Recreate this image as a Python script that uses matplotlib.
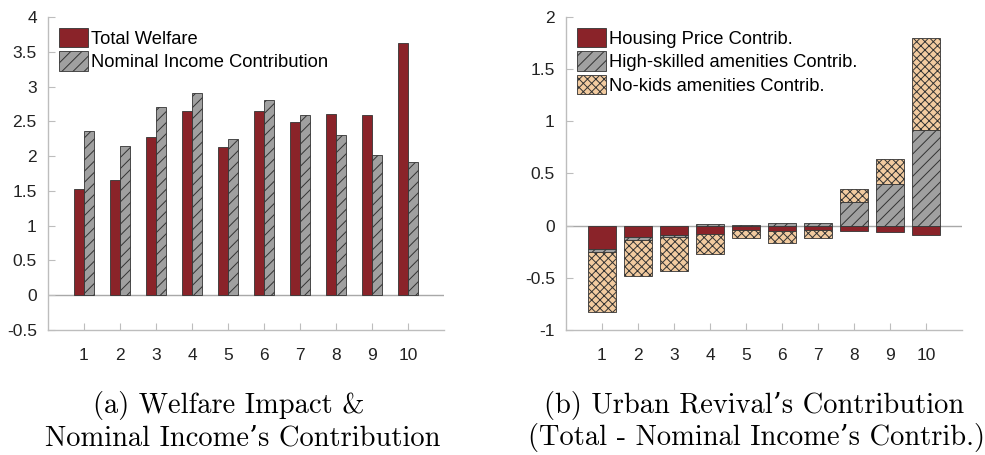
import numpy as np
import matplotlib.pyplot as plt

plt.rcParams['font.family'] = ['Liberation Sans', 'DejaVu Sans']
plt.rcParams['hatch.linewidth'] = 0.7

groups = np.arange(1, 11)

# panel (a)
total_welfare = [1.53, 1.66, 2.28, 2.65, 2.13, 2.65, 2.49, 2.61, 2.59, 3.63]
nominal_income = [2.36, 2.14, 2.70, 2.90, 2.24, 2.80, 2.59, 2.31, 2.01, 1.92]

# panel (b)
housing_price = [-0.22, -0.11, -0.09, -0.08, -0.04, -0.05, -0.04, -0.05, -0.06, -0.09]
high_skilled = [-0.035, -0.03, -0.02, 0.013, 0.003, 0.03, 0.03, 0.23, 0.40, 0.92]
no_kids = [-0.575, -0.34, -0.32, -0.19, -0.08, -0.12, -0.08, 0.125, 0.235, 0.875]

red = '#8a2329'
grey = '#a0a0a0'
tan = '#f2cba0'
edge = '#333333'
axcol = '#bdbdbd'


def style_axes(ax, ylim, yticks, ylabels):
    ax.set_xlim(0, 11)
    ax.set_ylim(*ylim)
    ax.set_xticks(groups)
    ax.set_yticks(yticks)
    ax.set_yticklabels(ylabels)
    for s in ['top', 'right']:
        ax.spines[s].set_visible(False)
    for s in ['left', 'bottom']:
        ax.spines[s].set_color(axcol)
        ax.spines[s].set_linewidth(1.0)
    ax.tick_params(direction='in', length=5, color=axcol, labelsize=12.5,
                   labelcolor='#222222')
    ax.tick_params(axis='x', pad=13)
    ax.tick_params(axis='y', pad=8)
    ax.axhline(0, color='#a8a8a8', lw=1.0, zorder=1)


def add_legend(ax, fs):
    ax.legend(loc='upper left', bbox_to_anchor=(0.0, 1.0), frameon=False,
              fontsize=fs, handlelength=1.6, handleheight=1.25,
              handletextpad=0.15, labelspacing=0.2, borderaxespad=0.3,
              borderpad=0.3)


fig = plt.figure(figsize=(9.85, 4.55), dpi=100)
ax1 = fig.add_axes([0.0487, 0.2747, 0.402, 0.688])
ax2 = fig.add_axes([0.5746, 0.2747, 0.402, 0.688])

w = 0.28
ax1.bar(groups - w / 2, total_welfare, w, color=red, edgecolor=edge,
        linewidth=0.6, label='Total Welfare', zorder=2)
ax1.bar(groups + w / 2, nominal_income, w, color=grey, edgecolor=edge,
        linewidth=0.6, hatch='///', label='Nominal Income Contribution', zorder=2)
style_axes(ax1, (-0.5, 4), np.arange(-0.5, 4.01, 0.5),
           ['-0.5', '0', '0.5', '1', '1.5', '2', '2.5', '3', '3.5', '4'])
add_legend(ax1, 13.2)

# stacked bars, positives above zero and negatives below
pos = np.zeros(10)
neg = np.zeros(10)
series = [(housing_price, red, '', 'Housing Price Contrib.'),
          (high_skilled, grey, '///', 'High-skilled amenities Contrib.'),
          (no_kids, tan, 'xxxx', 'No-kids amenities Contrib.')]
for vals, col, hatch, lab in series:
    vals = np.array(vals)
    base = np.where(vals >= 0, pos, neg)
    ax2.bar(groups, vals, 0.8, bottom=base, color=col, edgecolor=edge,
            linewidth=0.6, hatch=hatch, label=lab, zorder=2)
    pos = pos + np.clip(vals, 0, None)
    neg = neg + np.clip(vals, None, 0)
style_axes(ax2, (-1, 2), np.arange(-1, 2.01, 0.5),
           ['-1', '-0.5', '0', '0.5', '1', '1.5', '2'])
add_legend(ax2, 13.2)

cap = dict(ha='center', va='center', fontsize=20.5, family=['cmr10', 'DejaVu Serif'])
fig.text(229 / 985, 1 - 405 / 455, '(a) Welfare Impact &', **cap)
fig.text(243 / 985, 1 - 438 / 455, 'Nominal Income\u2019s Contribution', **cap)
fig.text(754 / 985, 1 - 405 / 455, '(b) Urban Revival\u2019s Contribution', **cap)
fig.text(756 / 985, 1 - 438 / 455, '(Total - Nominal Income\u2019s Contrib.)', **cap)

fig.savefig('out.png', dpi=100)
